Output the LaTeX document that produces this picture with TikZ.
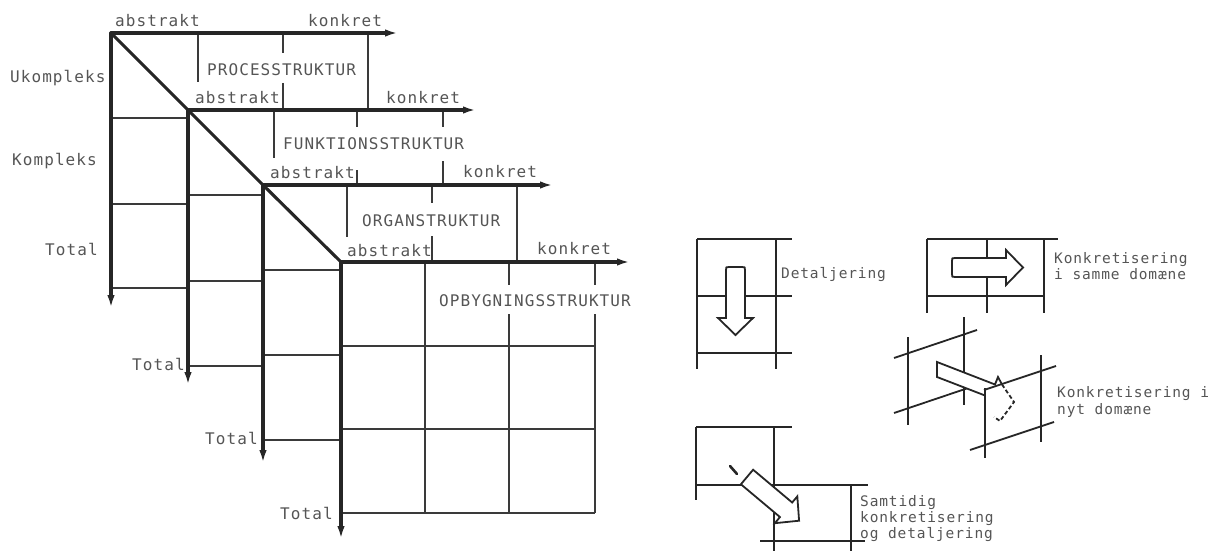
\documentclass[tikz,border=0pt]{standalone}
\usepackage{fontspec}
\usetikzlibrary{arrows.meta}
\newfontfamily\labfontA[LetterSpace=6.7]{DejaVu Sans Mono}
\newfontfamily\labfontB[LetterSpace=6]{DejaVu Sans Mono}
\definecolor{ink}{HTML}{262626}
\definecolor{thinink}{HTML}{3A3A3A}
\definecolor{txt}{HTML}{555555}
\begin{document}
\begin{tikzpicture}[x=1pt,y=-1pt,
 axis/.style={line width=3.1pt, draw=ink, line cap=round, -{Latex[length=13pt,width=7.5pt]}},
 diag/.style={line width=3.1pt, draw=ink, line cap=round},
 gridl/.style={line width=1.3pt, draw=thinink},
 lab/.style={anchor=base west, inner sep=0pt, text=txt, font=\labfontA\fontsize{16}{19}\selectfont},
 rlab/.style={anchor=base west, inner sep=0pt, text=txt, font=\labfontB\fontsize{14.5}{17}\selectfont},
 sym/.style={line width=1.8pt, draw=ink},
 blk/.style={line width=1.8pt, draw=ink, fill=white, line join=miter}]
\useasboundingbox (0,0) rectangle (1216,551);

% ---------- Structure 1: PROCESSTRUKTUR ----------
\coordinate (o1) at (111,33);
\draw[gridl] (198,33) -- (198,82);
\draw[gridl] (283,33) -- (283,53);
\draw[gridl] (283,83) -- (283,110);
\draw[gridl] (368,33) -- (368,110);
\draw[gridl] (111,118) -- (188,118);
\draw[gridl] (111,204) -- (188,204);
\draw[gridl] (111,288) -- (188,288);
\draw[axis] (o1) -- (398,33);
\draw[axis] (o1) -- (111,308);
\node[lab] (s1abs) at (115,27) {abstrakt};
\node[lab] (s1kon) at (308,27) {konkret};
\node[lab] (s1name) at (207,75) {PROCESSTRUKTUR};
\node[lab] (ukomp) at (10,82) {Ukompleks};
\node[lab] (komp) at (12,165) {Kompleks};
\node[lab] (s1tot) at (45,255) {Total};

% ---------- Structure 2: FUNKTIONSSTRUKTUR ----------
\coordinate (o2) at (188,110);
\draw[gridl] (274,110) -- (274,158);
\draw[gridl] (357,110) -- (357,127);
\draw[gridl] (357,170) -- (357,185);
\draw[gridl] (443,110) -- (443,127);
\draw[gridl] (443,161) -- (443,185);
\draw[gridl] (188,195) -- (263,195);
\draw[gridl] (188,281) -- (263,281);
\draw[gridl] (188,366) -- (263,366);
\draw[axis] (o2) -- (476,110);
\draw[axis] (o2) -- (188,385);
\draw[diag] (o1) -- (o2);
\node[lab] (s2abs) at (195,103) {abstrakt};
\node[lab] (s2kon) at (386,103) {konkret};
\node[lab] (s2name) at (283,149) {FUNKTIONSSTRUKTUR};
\node[lab] (s2tot) at (132,370) {Total};

% ---------- Structure 3: ORGANSTRUKTUR ----------
\coordinate (o3) at (263,185);
\draw[gridl] (347,185) -- (347,237);
\draw[gridl] (432,185) -- (432,203);
\draw[gridl] (432,236) -- (432,262);
\draw[gridl] (517,185) -- (517,262);
\draw[gridl] (263,270) -- (341,270);
\draw[gridl] (263,355) -- (341,355);
\draw[gridl] (263,440) -- (341,440);
\draw[axis] (o3) -- (553,185);
\draw[axis] (o3) -- (263,463);
\draw[diag] (o2) -- (o3);
\node[lab] (s3abs) at (270,178) {abstrakt};
\node[lab] (s3kon) at (463,177) {konkret};
\node[lab] (s3name) at (362,226) {ORGANSTRUKTUR};
\node[lab] (s3tot) at (205,444) {Total};

% ---------- Structure 4: OPBYGNINGSSTRUKTUR ----------
\coordinate (o4) at (341,262);
\draw[gridl] (425,262) -- (425,513);
\draw[gridl] (509,262) -- (509,285);
\draw[gridl] (509,314) -- (509,513);
\draw[gridl] (595,262) -- (595,285);
\draw[gridl] (595,314) -- (595,513);
\draw[gridl] (341,346) -- (595,346);
\draw[gridl] (341,429) -- (595,429);
\draw[gridl] (341,513) -- (595,513);
\draw[axis] (o4) -- (630,262);
\draw[axis] (o4) -- (341,539);
\draw[diag] (o3) -- (o4);
\node[lab] (s4abs) at (347,256) {abstrakt};
\node[lab] (s4kon) at (537,254) {konkret};
\node[lab] (s4name) at (439,306) {OPBYGNINGSSTRUKTUR};
\node[lab] (s4tot) at (280,519) {Total};

% ---------- Symbol A: Detaljering ----------
\draw[sym] (697,239) -- (792,239);
\draw[sym] (697,296) -- (792,296);
\draw[sym] (697,353) -- (792,353);
\draw[sym] (697,239) -- (697,369);
\draw[sym] (776,239) -- (776,369);
\draw[blk] (726,318) -- (726,270) .. controls (726,267) .. (729,267) -- (742,267)
  .. controls (745,267) .. (745,270) -- (745,318) -- (753,318) -- (735.5,335) -- (718,318) -- cycle;
\node[rlab] (detal) at (781,278) {Detaljering};

% ---------- Symbol B: Konkretisering i samme domaene ----------
\draw[sym] (927,239) -- (1058,239);
\draw[sym] (927,296) -- (1044,296);
\draw[sym] (927,239) -- (927,313);
\draw[sym] (987,239) -- (987,313);
\draw[sym] (1044,239) -- (1044,313);
\draw[blk] (1006,258) -- (955,258) .. controls (952,258) .. (952,261) -- (952,274)
  .. controls (952,277) .. (955,277) -- (1006,277) -- (1006,285) -- (1023,267.5) -- (1006,250) -- cycle;
\node[rlab] (ksa1) at (1054,263) {Konkretisering};
\node[rlab] (ksa2) at (1054,279) {i samme domæne};

% ---------- Symbol C: Konkretisering i nyt domaene ----------
\draw[sym] (908,337) -- (908,425);
\draw[sym] (964,317) -- (964,405);
\draw[sym] (894,358) -- (977,330);
\draw[sym] (894,413) -- (977,385);
\fill[white] (937,362) -- (995,384.5) -- (998,377) -- (1002,384.5) -- (985,395.5) -- (937,377) -- cycle;
\draw[sym, line join=miter] (985,395.5) -- (937,377) -- (937,362) -- (995,384.5) -- (998,377) -- (1002,384.5);
\draw[sym, dash pattern=on 4pt off 2.5pt] (1002,384.5) -- (1014,402) -- (1000,421) -- (994,417);
\draw[sym] (985,388) -- (985,458);
\draw[sym] (1041,355) -- (1041,442);
\draw[sym] (984,390) -- (1056,366);
\draw[sym] (970,450) -- (1054,422);
\node[rlab] (kny1) at (1057,397) {Konkretisering i};
\node[rlab] (kny2) at (1057,414) {nyt domæne};

% ---------- Symbol D: Samtidig konkretisering og detaljering ----------
\draw[sym] (696,427) -- (792,427);
\draw[sym] (696,427) -- (696,500);
\draw[sym] (774,427) -- (774,551);
\draw[sym] (696,485) -- (868,485);
\draw[sym] (851,485) -- (851,551);
\draw[sym] (760,541) -- (865,541);
\begin{scope}[shift={(747,477)}, rotate=-40]
 \draw[blk] (0,-9.5) -- (51,-9.5) -- (51,-17.5) -- (68,0) -- (51,17.5) -- (51,9.5) -- (0,9.5) -- cycle;
\end{scope}
\draw[line width=2.6pt, draw=ink, line cap=round] (730,466) -- (737,474);
\node[rlab] (sam1) at (860,506) {Samtidig};
\node[rlab] (sam2) at (860,522) {konkretisering};
\node[rlab] (sam3) at (860,538) {og detaljering};
\end{tikzpicture}
\end{document}
